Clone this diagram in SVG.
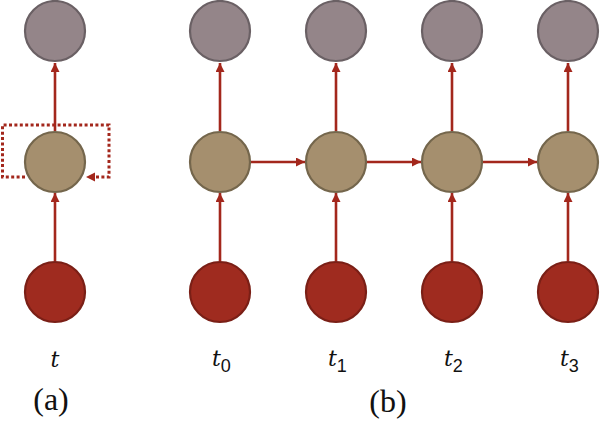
<svg xmlns="http://www.w3.org/2000/svg" width="600" height="421" viewBox="0 0 600 421">
<defs>
<marker id="ah" viewBox="0 0 10 10" refX="10" refY="5" markerWidth="9" markerHeight="9" markerUnits="userSpaceOnUse" orient="auto">
<path d="M0,0 L10,5 L0,10 z" fill="#A3271C"/>
</marker>
<style>
.out{fill:#948589;stroke:#6A6064;stroke-width:2.2}
.hid{fill:#A58F6E;stroke:#74664C;stroke-width:2.2}
.inp{fill:#9F2B1F;stroke:#7A1F16;stroke-width:2.2}
.ed{stroke:#A3271C;stroke-width:2.6;fill:none;marker-end:url(#ah)}
.rec{stroke:#A3271C;stroke-width:3;fill:none;stroke-dasharray:3 2.4}
.lbl{font-family:"DejaVu Serif",serif;font-style:italic;font-size:22px;fill:#111}
.sub{font-family:"Liberation Sans",sans-serif;font-size:18px;fill:#111}
.cap{font-family:"Liberation Serif",serif;font-size:32px;fill:#111;text-anchor:middle}
</style>
</defs>
<rect width="600" height="421" fill="#fff"/>
<g id="connectors">
<line class="ed" x1="55" y1="261" x2="55" y2="193"/>
<line class="ed" x1="55" y1="131" x2="55" y2="63"/>
<path class="rec" d="M25,177 L2.5,177 L2.5,125 L109,125 L109,177 L94,177"/>
<path d="M95,172.5 L86,177 L95,181.5 z" fill="#A3271C"/>
<line class="ed" x1="220" y1="261" x2="220" y2="193"/>
<line class="ed" x1="220" y1="131" x2="220" y2="63"/>
<line class="ed" x1="336" y1="261" x2="336" y2="193"/>
<line class="ed" x1="336" y1="131" x2="336" y2="63"/>
<line class="ed" x1="452" y1="261" x2="452" y2="193"/>
<line class="ed" x1="452" y1="131" x2="452" y2="63"/>
<line class="ed" x1="568" y1="261" x2="568" y2="193"/>
<line class="ed" x1="568" y1="131" x2="568" y2="63"/>
<line class="ed" x1="251" y1="162" x2="305" y2="162"/>
<line class="ed" x1="367" y1="162" x2="421" y2="162"/>
<line class="ed" x1="483" y1="162" x2="537" y2="162"/>
</g>
<g id="a-out"><circle class="out" cx="55" cy="31" r="30"/></g>
<g id="a-hid"><circle class="hid" cx="55" cy="162" r="30"/></g>
<g id="a-in"><circle class="inp" cx="55" cy="292" r="30"/></g>
<g id="b0-out"><circle class="out" cx="220" cy="31" r="30"/></g>
<g id="b0-hid"><circle class="hid" cx="220" cy="162" r="30"/></g>
<g id="b0-in"><circle class="inp" cx="220" cy="292" r="30"/></g>
<g id="b1-out"><circle class="out" cx="336" cy="31" r="30"/></g>
<g id="b1-hid"><circle class="hid" cx="336" cy="162" r="30"/></g>
<g id="b1-in"><circle class="inp" cx="336" cy="292" r="30"/></g>
<g id="b2-out"><circle class="out" cx="452" cy="31" r="30"/></g>
<g id="b2-hid"><circle class="hid" cx="452" cy="162" r="30"/></g>
<g id="b2-in"><circle class="inp" cx="452" cy="292" r="30"/></g>
<g id="b3-out"><circle class="out" cx="568" cy="31" r="30"/></g>
<g id="b3-hid"><circle class="hid" cx="568" cy="162" r="30"/></g>
<g id="b3-in"><circle class="inp" cx="568" cy="292" r="30"/></g>
<g id="labels">
<text class="lbl" x="55" y="367" text-anchor="middle">t</text>
<text class="lbl" x="212" y="366">t<tspan class="sub" font-style="normal" dy="6">0</tspan></text>
<text class="lbl" x="328" y="366">t<tspan class="sub" font-style="normal" dy="6">1</tspan></text>
<text class="lbl" x="444" y="366">t<tspan class="sub" font-style="normal" dy="6">2</tspan></text>
<text class="lbl" x="560" y="366">t<tspan class="sub" font-style="normal" dy="6">3</tspan></text>
<text class="cap" x="51" y="410">(a)</text>
<text class="cap" x="388" y="412">(b)</text>
</g>
</svg>
